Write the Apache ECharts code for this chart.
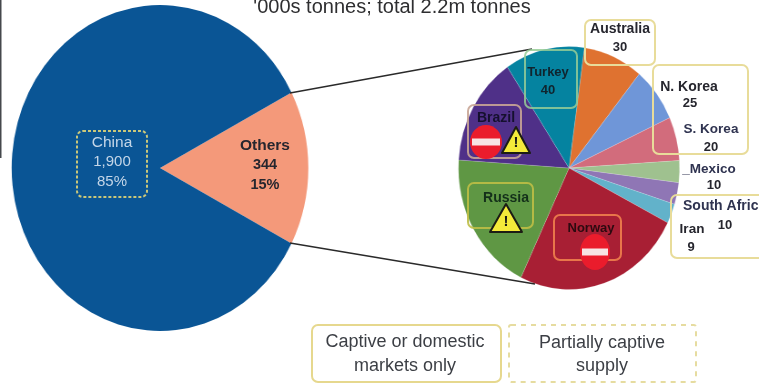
<!DOCTYPE html>
<html>
<head>
<meta charset="utf-8">
<style>
  html, body { margin: 0; padding: 0; background: #fff; overflow: hidden; }
  #stage { position: relative; width: 759px; height: 384px; overflow: hidden; }
  /* The pies are oval, so their layer is drawn wider and squeezed horizontally */
  #pies { position: absolute; left: 0; top: 0; width: 834px; height: 384px;
          transform-origin: 0 0; transform: scaleX(0.91); }
  #notes { position: absolute; left: 0; top: 0; width: 759px; height: 384px; }
</style>
</head>
<body>
<div id="stage"><div id="pies"></div><div id="notes"></div></div>
<script src="https://cdn.jsdelivr.net/npm/echarts@6/dist/echarts.min.js"></script>
<script>
// Global supply split, '000s tonnes
const splitNames = ['Others', 'China'];
const splitValues = [344, 1900];
const splitShares = ['15%', '85%'];
const splitColors = ['#f4997a', '#0a5595'];

// Breakdown of the "Others" slice, clockwise from the top
const otherNames = ['Australia', 'N. Korea', 'S. Korea', 'Mexico', 'South Africa', 'Iran', 'Norway', 'Russia', 'Brazil', 'Turkey'];
const otherValues = [30, 25, 20, 10, 10, 9, 85, 65, 50, 40];
const otherColors = ['#df7230', '#6f96d8', '#d26c7c', '#9fc18f', '#8f76b5', '#62b2ca', '#a81f34', '#5f9744', '#4f3088', '#0583a0'];

const titleText = "'000s tonnes; total 2.2m tonnes";
const captiveText = ['Captive or domestic', 'markets only'];
const partialText = ['Partially captive', 'supply'];

const squeeze = 0.91;
const pieChart = echarts.init(document.getElementById('pies'), null, { renderer: 'canvas' });

function slices(names, values, colors) {
  return names.map((name, i) => ({ name, value: values[i], itemStyle: { color: colors[i] } }));
}

pieChart.setOption({
  animation: false,
  series: [
    {
      type: 'pie', center: [160 / squeeze, 168], radius: [0, 163], startAngle: 27.6,
      clockwise: true, label: { show: false }, labelLine: { show: false }, silent: true,
      data: slices(splitNames, splitValues, splitColors)
    },
    {
      type: 'pie', center: [569 / squeeze, 168], radius: [0, 121.5], startAngle: 82,
      clockwise: true, label: { show: false }, labelLine: { show: false }, silent: true,
      itemStyle: { borderColor: 'rgba(255,255,255,0.25)', borderWidth: 0.6 },
      data: slices(otherNames, otherValues, otherColors)
    }
  ]
});

const boxGold = '#e8dc9a';

function box(x, y, w, h, opts) {
  opts = opts || {};
  return {
    type: 'rect', shape: { x, y, width: w, height: h, r: opts.r === undefined ? 6 : opts.r },
    style: {
      fill: opts.fill || 'transparent', stroke: opts.stroke || boxGold,
      lineWidth: opts.lineWidth || 2, lineDash: opts.dash || null
    }
  };
}

function text(str, x, y, opts) {
  opts = opts || {};
  return {
    type: 'text', z: 20, x, y,
    style: {
      text: str, fill: opts.color || '#26262e', align: opts.align || 'center', verticalAlign: 'middle',
      font: (opts.weight || 'bold') + ' ' + (opts.size || 14) + 'px "Liberation Sans", Arial, sans-serif'
    }
  };
}

function noEntry(cx, cy, rx, ry) {
  return [
    { type: 'ellipse', z: 10, shape: { cx, cy, rx, ry }, style: { fill: '#ea1c2c' } },
    { type: 'rect', z: 11, shape: { x: cx - rx + 2, y: cy - 3.5, width: 2 * rx - 4, height: 7 }, style: { fill: '#f7e4e4' } }
  ];
}

function warning(cx, top, bottom, half) {
  return [
    {
      type: 'polygon', z: 12,
      shape: { points: [[cx, top], [cx + half, bottom], [cx - half, bottom]] },
      style: { fill: '#f4ea3a', stroke: '#1c1c14', lineWidth: 2, lineJoin: 'round' }
    },
    {
      type: 'text', z: 13, x: cx, y: (top + 2 * bottom) / 3 - 1,
      style: { text: '!', fill: '#1c1c14', align: 'center', verticalAlign: 'middle', font: 'bold 15px "Liberation Sans", Arial, sans-serif' }
    }
  ];
}

const notes = echarts.init(document.getElementById('notes'), null, { renderer: 'canvas' });
notes.setOption({
  animation: false,
  backgroundColor: 'transparent',
  graphic: {
    elements: [
      { type: 'rect', shape: { x: 0, y: 0, width: 1.5, height: 158 }, style: { fill: '#45484d' } },
      text(titleText, 392, 7, { size: 20, weight: 'normal', color: '#2e2e30' }),

      // Lines tying the "Others" slice to its breakdown
      { type: 'line', shape: { x1: 290, y1: 93, x2: 532, y2: 49 }, style: { stroke: '#2a2a2a', lineWidth: 1.5 } },
      { type: 'line', shape: { x1: 290, y1: 243, x2: 535, y2: 284 }, style: { stroke: '#2a2a2a', lineWidth: 1.5 } },

      // Left pie
      box(77, 131, 70, 66, { dash: [3, 2], stroke: '#c9c77a' }),
      text(splitNames[1], 112, 143, { color: '#c4d6e8', weight: 'normal', size: 15.5 }),
      text('1,900', 112, 162, { color: '#c4d6e8', weight: 'normal', size: 15 }),
      text(splitShares[1], 112, 182, { color: '#c4d6e8', weight: 'normal', size: 15 }),
      text(splitNames[0], 265, 146, { size: 15.5 }),
      text(String(splitValues[0]), 265, 165, { size: 14.5 }),
      text(splitShares[0], 265, 185, { size: 14.5 }),

      // Right pie: captive-market outlines
      box(585, 20, 70, 45),
      box(653, 65, 95, 89),
      box(671, 195, 96, 63),
      box(525, 50, 52, 58, { stroke: 'rgba(150,205,150,0.85)' }),
      box(468, 105, 53, 53, { stroke: 'rgba(200,165,150,0.9)' }),
      box(468, 183, 65, 45, { stroke: 'rgba(190,190,70,0.9)' }),
      box(554, 215, 67, 45, { stroke: '#e8764a' }),

      // Right pie: labels
      text('Australia', 620, 29, { size: 14 }),
      text('30', 620, 47, { size: 13 }),
      text('N. Korea', 689, 87),
      text('25', 690, 103, { size: 13 }),
      text('S. Korea', 711, 129, { size: 13.5, color: '#2f3350' }),
      text('20', 711, 147, { size: 13 }),
      text('_Mexico', 709, 169, { size: 13.5, color: '#2f3350' }),
      text('10', 714, 185, { size: 13 }),
      text('South Afric', 683, 206, { size: 14, align: 'left', color: '#2f3350' }),
      text('10', 725, 225, { size: 13 }),
      text('Iran', 692, 229, { size: 13.5 }),
      text('9', 691, 247, { size: 13 }),
      text('Turkey', 548, 72, { size: 13, color: '#10242e' }),
      text('40', 548, 90, { size: 13, color: '#10242e' }),
      text('Brazil', 496, 118, { size: 14, color: '#15102e' }),
      text('Russia', 506, 198, { size: 14, color: '#14301a' }),
      text('Norway', 591, 228, { size: 13, color: '#2c0a10' }),

      // Supply warning markers
      ...noEntry(486, 142, 16, 17),
      ...warning(516, 127, 153, 14),
      ...warning(506, 204, 232, 16),
      ...noEntry(595, 252, 15, 18),

      // Key
      box(312, 325, 189, 57, { lineWidth: 2, stroke: '#e6d88e' }),
      text(captiveText[0], 405, 342, { size: 18, weight: 'normal', color: '#3c3f45' }),
      text(captiveText[1], 405, 366, { size: 18, weight: 'normal', color: '#3c3f45' }),
      box(509, 325, 187, 57, { dash: [5, 5], r: 2, stroke: '#e6dca0' }),
      text(partialText[0], 602, 343, { size: 18, weight: 'normal', color: '#3c3f45' }),
      text(partialText[1], 602, 366, { size: 18, weight: 'normal', color: '#3c3f45' })
    ]
  }
});
</script>
</body>
</html>
